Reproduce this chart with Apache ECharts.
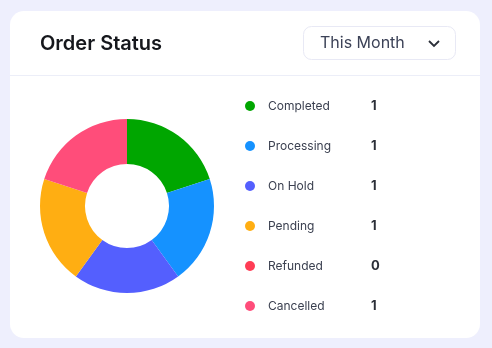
<!DOCTYPE html>
<html><head><meta charset="utf-8">
<script src="https://cdn.jsdelivr.net/npm/echarts@6/dist/echarts.min.js"></script>
<style>html,body{margin:0;padding:0;background:#eeeffd;}#c{width:492px;height:348px;}</style>
</head><body><div id="c"></div>
<script>
const categories = ['Completed','Processing','On Hold','Pending','Refunded','Cancelled'];
const values = [1,1,1,1,0,1];
const colors = ['#00a600','#1592ff','#545ffe','#ffae12','#ff3d55','#ff4d7a'];
const titleText = 'Order Status';
const periodText = 'This Month';

const chart = echarts.init(document.getElementById('c'), null, {renderer:'canvas'});
const F = 'Inter, "Noto Sans", sans-serif';
chart.setOption({
  backgroundColor: '#eeeffd',
  animation: false,
  graphic: [
    {type:'rect', z:-10, shape:{x:10,y:11,width:470,height:327,r:14}, style:{fill:'#ffffff'}},
    {type:'line', z:-9, shape:{x1:10,y1:75.5,x2:480,y2:75.5}, style:{stroke:'#eceef8',lineWidth:1}},
    {type:'text', left:40, top:34, style:{text:titleText, font:'600 20px '+F, fill:'#15171c'}},
    {type:'rect', shape:{x:303.5,y:26.5,width:152,height:33,r:8}, style:{fill:'#fff',stroke:'#e8e9f5',lineWidth:1}},
    {type:'text', left:320, top:35, style:{text:periodText, font:'400 16px '+F, fill:'#3c4257'}},
    {type:'polyline', shape:{points:[[429,41],[434,46],[439,41]]}, style:{stroke:'#2a2e38',lineWidth:1.8,fill:null}}
  ],
  legend: {
    orient:'vertical', left:240, top:93,
    icon:'circle', itemWidth:10, itemHeight:10, itemGap:24,
    data: categories,
    formatter: function(name){ const i = categories.indexOf(name); return '{n|'+name+'}{v|'+values[i]+'}'; },
    textStyle: {
      padding:[0,0,0,8], lineHeight:16,
      rich: {
        n:{width:103, fontSize:12, fontFamily:F, color:'#3b4050', lineHeight:16},
        v:{fontSize:13, fontWeight:'bold', fontFamily:F, color:'#2b2f38', lineHeight:16}
      }
    }
  },
  series: [{
    type:'pie', center:[127,206], radius:[42,87], startAngle:90, clockwise:true,
    label:{show:false}, labelLine:{show:false}, silent:true,
    stillShowZeroSum:true,
    data: categories.map((c,i)=>({name:c, value:values[i], itemStyle:{color:colors[i]}}))
  }]
});
</script></body></html>
